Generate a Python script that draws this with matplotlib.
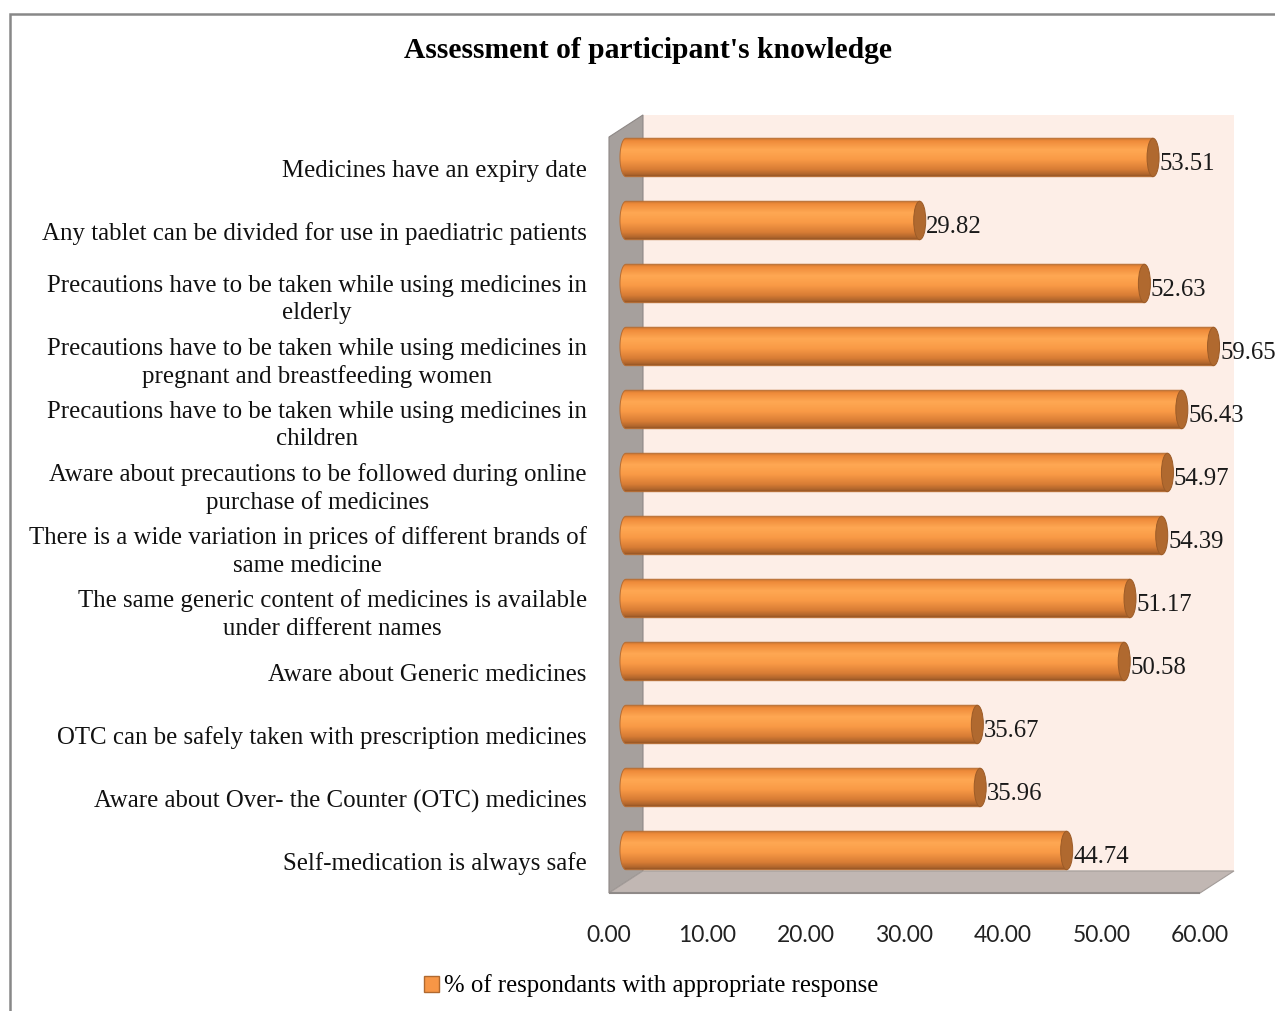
import numpy as np
import matplotlib
matplotlib.use("Agg")
import matplotlib.pyplot as plt
from matplotlib.patches import Polygon, PathPatch, Ellipse, Rectangle, Patch
from matplotlib.path import Path
from matplotlib.colors import LinearSegmentedColormap

# ---- data -------------------------------------------------------------
categories = [
    "Medicines have an expiry date",
    "Any tablet can be divided for use in paediatric patients",
    "Precautions have to be taken while using medicines in\nelderly",
    "Precautions have to be taken while using medicines in\npregnant and breastfeeding women",
    "Precautions have to be taken while using medicines in\nchildren",
    "Aware about precautions to be followed during online\npurchase of medicines",
    "There is a wide variation in prices of different brands of\nsame medicine",
    "The same generic content of medicines is available\nunder different names",
    "Aware about Generic medicines",
    "OTC can be safely taken with prescription medicines",
    "Aware about Over- the Counter (OTC) medicines",
    "Self-medication is always safe",
]
values = [53.51, 29.82, 52.63, 59.65, 56.43, 54.97, 54.39, 51.17, 50.58, 35.67, 35.96, 44.74]
xticks = [0, 10, 20, 30, 40, 50, 60]
series_name = "% of respondants with appropriate response"
title = "Assessment of participant's knowledge"

# ---- figure -----------------------------------------------------------
W, H = 1275, 1011
fig = plt.figure(figsize=(W / 100, H / 100), dpi=100)
fig.patch.set_facecolor("white")

# front plane of the 3-D plot area, in pixels
px_left, px_right, px_top, px_bottom = 609, 1200, 137, 893
ax = fig.add_axes([px_left / W, (H - px_bottom) / H,
                   (px_right - px_left) / W, (px_bottom - px_top) / H])
ax.set_facecolor("none")

n = len(categories)
xmax = xticks[-1]
ax.set_xlim(0, xmax)
ax.set_ylim(-0.5, n - 0.5)

# depth of the 3-D box in data units
DX, DY = 3.45, 0.35
serif = ["Liberation Serif", "DejaVu Serif"]
sans = ["Lato", "DejaVu Sans"]

# walls and floor
ax.add_patch(Rectangle((DX, -0.5 + DY), xmax, n, fc="#FDEEE7", ec="none",
                       zorder=0, clip_on=False))
ax.add_patch(Polygon([(0, -0.5), (0, n - 0.5), (DX, n - 0.5 + DY), (DX, -0.5 + DY)],
                     closed=True, fc="#A6A09D", ec="#8E8886", lw=0.8,
                     zorder=1, clip_on=False))
ax.add_patch(Polygon([(0, -0.5), (xmax, -0.5), (xmax + DX, -0.5 + DY), (DX, -0.5 + DY)],
                     closed=True, fc="#C1B7B3", ec="#A39C99", lw=0.8,
                     zorder=1, clip_on=False))
ax.plot([0, xmax], [-0.5, -0.5], color="#8F8A88", lw=1.5, zorder=2,
        clip_on=False, solid_capstyle="butt")

# cylinder shading, top to bottom
cyl = LinearSegmentedColormap.from_list("cyl", [
    (0.00, "#C27230"),
    (0.07, "#EE8A3A"),
    (0.30, "#FFA853"),
    (0.55, "#F99A46"),
    (0.80, "#D87D35"),
    (0.93, "#B0652C"),
    (1.00, "#8A4E22"),
])
grad = np.linspace(0, 1, 256).reshape(-1, 1)

a = 0.61       # half width of the end ellipse (x data units)
hh = 0.305     # half height of a cylinder (y data units)
theta = np.linspace(np.pi / 2, 3 * np.pi / 2, 60)

for i, (cat, v) in enumerate(zip(categories, values)):
    y = n - 1 - i
    yc = y + DY / 2
    x0 = DX / 2
    x1 = DX / 2 + v
    verts = [(x1, yc + hh)]
    verts += [(x0 + a * np.cos(t), yc + hh * np.sin(t)) for t in theta]
    verts += [(x1, yc - hh), (x1, yc + hh)]
    codes = [Path.MOVETO] + [Path.LINETO] * (len(verts) - 2) + [Path.CLOSEPOLY]
    body = Path(verts, codes)
    clip = PathPatch(body, transform=ax.transData, fc="none", ec="none")
    im = ax.imshow(grad, cmap=cyl, aspect="auto", origin="upper",
                   extent=[x0 - a, x1, yc - hh, yc + hh], zorder=3,
                   interpolation="bilinear")
    im.set_clip_path(clip)
    im.set_clip_box(fig.bbox)
    ax.add_patch(PathPatch(body, fc="none", ec="#B86D32", lw=0.7, zorder=4,
                           clip_on=False))
    ax.add_patch(Ellipse((x1, yc), 2 * a, 2 * hh, fc="#B0692F", ec="#9C5B27",
                         lw=0.7, zorder=5, clip_on=False))
    ax.text(x1 + a + 0.05, yc - 0.11, f"{v:.2f}", ha="left", va="center",
            fontsize=17.8, family=serif, color="#1A1A1A", zorder=6, clip_on=False)

ax.set_xlim(0, xmax)
ax.set_ylim(-0.5, n - 0.5)

ax.set_xticks(xticks, [f"{t:.2f}" for t in xticks])
ax.set_yticks(range(n), categories[::-1])
ax.tick_params(axis="x", length=0, pad=23, labelsize=16.5, labelcolor="#222222")
ax.tick_params(axis="y", length=0, pad=16, labelsize=17.9, labelcolor="#111111")
for lab in ax.get_xticklabels():
    lab.set_fontfamily(sans)
for lab in ax.get_yticklabels():
    lab.set_fontfamily(serif)
    lab.set_multialignment("center")
    lab.set_linespacing(1.3)
for s in ax.spines.values():
    s.set_visible(False)

# title
fig.text(648 / W, 1 - 50 / H, title, ha="center", va="center",
         fontsize=21.3, fontweight="bold", family=serif)

# legend
fig.legend(handles=[Patch(fc="#F79646", ec="#B0692F", lw=1.0, label=series_name)],
           loc="center", bbox_to_anchor=(651 / W, 1 - 986 / H), frameon=False,
           prop={"family": serif, "size": 17.8}, handlelength=0.6, handleheight=0.6,
           handletextpad=0.2, borderpad=0)

# outer chart border
fig.patches.append(Rectangle((10 / W, -0.05), 1.2, (H - 14) / H + 0.05,
                             transform=fig.transFigure, fill=False,
                             ec="#888888", lw=1.8))

fig.savefig("out.png", dpi=100)
